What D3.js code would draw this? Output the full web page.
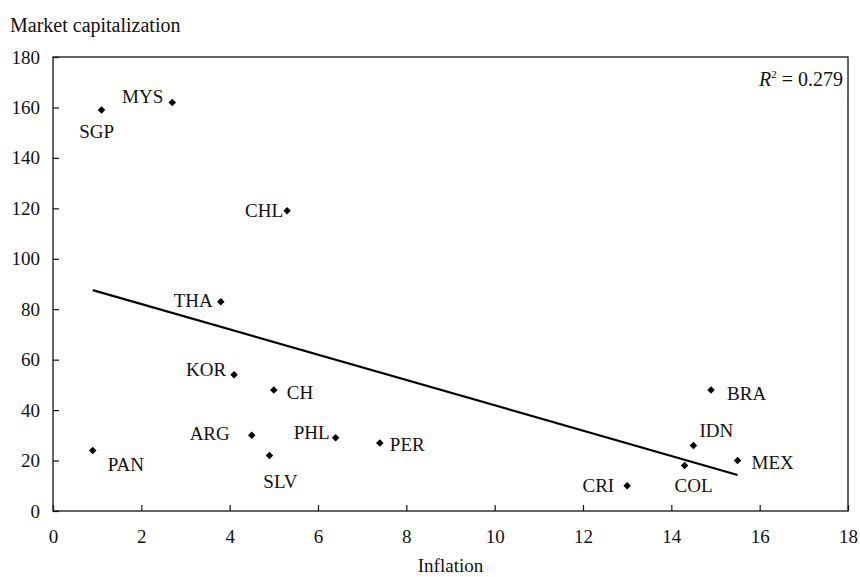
<!DOCTYPE html>
<html>
<head>
<meta charset="utf-8">
<script src="https://cdn.jsdelivr.net/npm/d3@7"></script>
<style>
  body { margin: 0; background: #fff; }
  svg text { font-family: 'Liberation Serif', 'Times New Roman', serif; fill: #111; }
</style>
</head>
<body>
<div id="chart"></div>
<script>
// countries, inflation (x) and market capitalization (y)
let countries = ['SGP', 'MYS', 'CHL', 'THA', 'KOR', 'CH', 'ARG', 'PHL', 'SLV', 'PER', 'PAN', 'BRA', 'IDN', 'COL', 'MEX', 'CRI'];
let inflation = [1.1, 2.7, 5.3, 3.8, 4.1, 5.0, 4.5, 6.4, 4.9, 7.4, 0.9, 14.9, 14.5, 14.3, 15.5, 13.0];
let marketCap = [159, 162, 119, 83, 54, 48, 30, 29, 22, 27, 24, 48, 26, 18, 20, 10];

// fitted trend line
let trendIntercept = 92.1;
let trendSlope = -5.02;
let rSquared = '0.279';

let xTicks = [0, 2, 4, 6, 8, 10, 12, 14, 16, 18];
let yTicks = [0, 20, 40, 60, 80, 100, 120, 140, 160, 180];

// where each label sits relative to its marker: [dx, dy, anchor]
let labelPos = {
  SGP: [-5, 28, 'middle'], MYS: [-9, 1, 'end'], CHL: [-4, 6, 'end'], THA: [-8, 5, 'end'],
  KOR: [-8, 1, 'end'], CH: [13, 9, 'start'], ARG: [-22, 5, 'end'], PHL: [-6, 1, 'end'],
  SLV: [11, 32, 'middle'], PER: [10, 8, 'start'], PAN: [15, 21, 'start'], BRA: [16, 10, 'start'],
  IDN: [23, -8, 'middle'], COL: [9, 26, 'middle'], MEX: [14, 8, 'start'], CRI: [-13, 6, 'end']
};

let margin = { top: 57, right: 12, bottom: 66, left: 53 },
  width = 860 - margin.left - margin.right,
  height = 577 - margin.top - margin.bottom;

let root = d3.select('#chart').append('svg')
  .attr('width', 860)
  .attr('height', 577);

let svg = root.append('g')
  .attr('transform', 'translate(' + margin.left + ',' + margin.top + ')');

let x = d3.scaleLinear().domain([0, 18]).range([0, width]);
let y = d3.scaleLinear().domain([0, 180]).range([height, 0]);

// frame
svg.append('rect')
  .attr('width', width)
  .attr('height', height)
  .attr('fill', 'none')
  .attr('stroke', '#111')
  .attr('stroke-width', 1.3);

// axes, ticks pointing inward
let xAxis = svg.append('g')
  .attr('transform', 'translate(0,' + height + ')')
  .call(d3.axisBottom(x).tickValues(xTicks).tickSizeInner(-6).tickSizeOuter(0).tickPadding(19));
let yAxis = svg.append('g')
  .call(d3.axisLeft(y).tickValues(yTicks).tickSizeInner(-6).tickSizeOuter(0).tickPadding(13));

[xAxis, yAxis].forEach(a => {
  a.attr('font-family', null).attr('font-size', null);
  a.select('.domain').remove();
  a.selectAll('line').attr('stroke', '#111').attr('stroke-width', 1.2);
  a.selectAll('text').style('font-size', '19px').attr('fill', '#111');
});
xAxis.selectAll('text').attr('dy', '0.71em');

// trend line
let x0 = d3.min(inflation), x1 = d3.max(inflation);
svg.append('line')
  .attr('x1', x(x0))
  .attr('y1', y(trendIntercept + trendSlope * x0))
  .attr('x2', x(x1))
  .attr('y2', y(trendIntercept + trendSlope * x1))
  .attr('stroke', '#000')
  .attr('stroke-width', 2.2);

let data = countries.map((c, i) => ({ c: c, x: inflation[i], y: marketCap[i] }));

svg.selectAll('.pt')
  .data(data)
  .enter()
  .append('path')
  .attr('class', 'pt')
  .attr('d', d3.symbol().type(d3.symbolDiamond2).size(36))
  .attr('transform', d => 'translate(' + x(d.x) + ',' + y(d.y) + ')')
  .attr('fill', '#000');

svg.selectAll('.lbl')
  .data(data)
  .enter()
  .append('text')
  .attr('class', 'lbl')
  .attr('x', d => x(d.x) + labelPos[d.c][0])
  .attr('y', d => y(d.y) + labelPos[d.c][1])
  .attr('text-anchor', d => labelPos[d.c][2])
  .style('font-size', '19px')
  .text(d => d.c);

// R squared
let r2 = svg.append('text')
  .attr('x', width - 5)
  .attr('y', 29)
  .attr('text-anchor', 'end')
  .style('font-size', '20px');
r2.append('tspan').style('font-style', 'italic').text('R');
r2.append('tspan').attr('dy', -8).style('font-size', '11px').text('2');
r2.append('tspan').attr('dy', 8).text(' = ' + rSquared);

// axis titles
root.append('text')
  .attr('x', 10)
  .attr('y', 32)
  .style('font-size', '20px')
  .text('Market capitalization');

root.append('text')
  .attr('x', margin.left + width / 2)
  .attr('y', 572)
  .attr('text-anchor', 'middle')
  .style('font-size', '19px')
  .text('Inflation');
</script>
</body>
</html>
